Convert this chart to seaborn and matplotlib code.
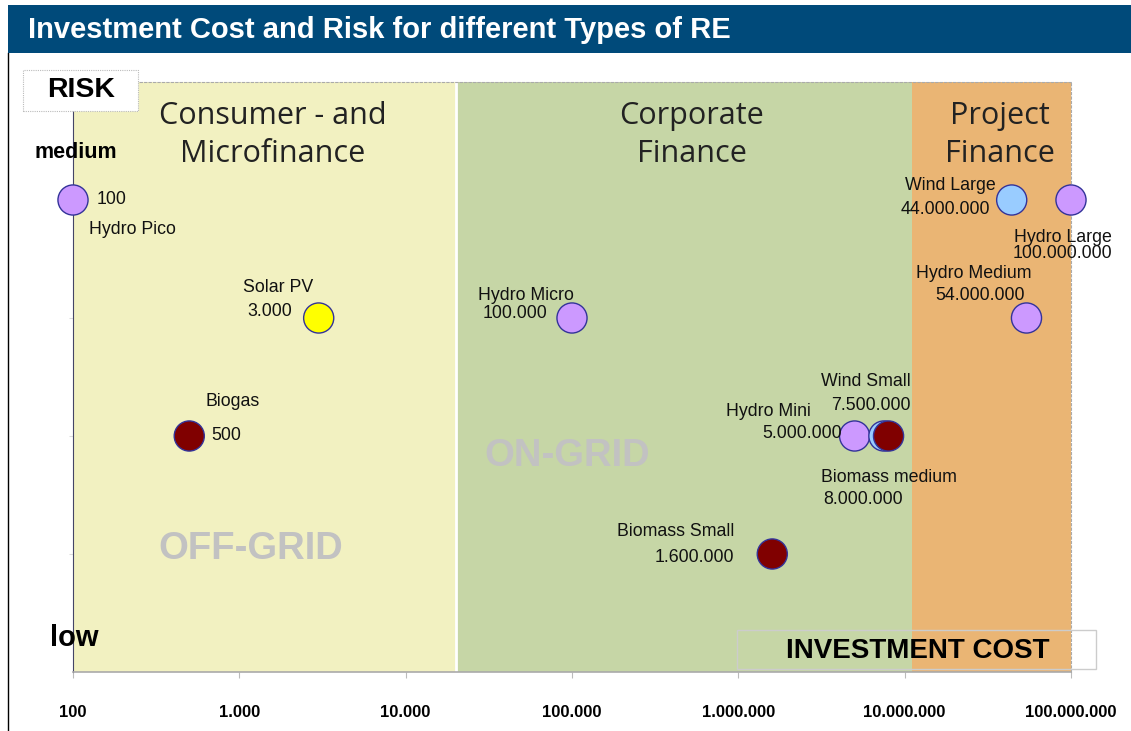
import matplotlib
matplotlib.use('Agg')
import matplotlib.pyplot as plt
import numpy as np
import pandas as pd
import seaborn as sns
from matplotlib.patches import Rectangle
from matplotlib.lines import Line2D

# data
names = ['Hydro Pico', 'Solar PV', 'Biogas', 'Hydro Micro', 'Biomass Small', 'Hydro Mini',
         'Wind Small', 'Biomass medium', 'Wind Large', 'Hydro Large', 'Hydro Medium']
costs = [100, 3000, 500, 100000, 1600000, 5000000, 7500000, 8000000, 44000000, 100000000, 54000000]
risk = [4, 3, 2, 3, 1, 2, 2, 2, 4, 4, 3]
kinds = ['Hydro', 'Solar', 'Biomass', 'Hydro', 'Biomass', 'Hydro', 'Wind', 'Biomass', 'Wind', 'Hydro', 'Hydro']
kind_colors = {'Hydro': '#cc99ff', 'Solar': '#ffff00', 'Biomass': '#800000', 'Wind': '#99ccff'}

band_names = ['Consumer - and\nMicrofinance', 'Corporate\nFinance', 'Project\nFinance']
band_edges = [100, 20000, 11000000, 100000000]
band_colors = ['#f2f1c1', '#c6d6a6', '#eab574']

tick_values = [100, 1000, 10000, 100000, 1000000, 10000000, 100000000]

# label offsets in pixels: (dx, dy, ha) for name and for value
name_pos = [(16, -30, 'left'), (-41, 30, 'center'), (16, 34, 'left'), (2, 22, 'right'),
            (-38, 23, 'right'), (-44, 24, 'right'), (27, 54, 'right'), (0, -42, 'center'),
            (-16, 14, 'right'), (41, -37, 'right'), (5, 45, 'right')]
value_pos = [(24, 0, 'left'), (-27, 7, 'right'), (22, 0, 'left'), (-25, 4, 'right'),
             (-38, -3, 'right'), (-13, 3, 'right'), (27, 31, 'right'), (-25, -64, 'center'),
             (-22, -9, 'right'), (41, -54, 'right'), (-2, 22, 'right')]


def fmt(v):
    return f'{v:,}'.replace(',', '.')


df = pd.DataFrame({'name': names, 'cost': costs, 'risk': risk, 'kind': kinds})

W, H = 1131, 731
fig = plt.figure(figsize=(W / 100, H / 100), dpi=100)
fig.patch.set_facecolor('white')


def fx(x):
    return x / W


def fy(y):
    return 1 - y / H


ax = fig.add_axes([fx(73), fy(672), fx(1071) - fx(73), fy(82) - fy(672)])
ax.set_xscale('log')
ax.set_xlim(100, 1e8)
ax.set_ylim(0, 5)

# bands
for i in range(3):
    ax.axvspan(band_edges[i], band_edges[i + 1], color=band_colors[i], lw=0, zorder=0)
    mid = 10 ** ((np.log10(band_edges[i]) + np.log10(band_edges[i + 1])) / 2 + 0.05)
    ax.text(mid, 4.55, band_names[i], ha='center', va='center', fontsize=22,
            family='Open Sans', color='#222222', linespacing=1.32, zorder=1)
ax.axvline(band_edges[1], color='white', lw=2, zorder=1)

ax.text(10 ** 3.07, 1.04, 'OFF-GRID', ha='center', va='center', fontsize=27.5,
        fontweight='bold', family='Liberation Sans', color='#c2c2c2', zorder=1)
ax.text(10 ** 4.97, 1.83, 'ON-GRID', ha='center', va='center', fontsize=27.5,
        fontweight='bold', family='Liberation Sans', color='#c2c2c2', zorder=1)

sns.scatterplot(data=df, x='cost', y='risk', hue='kind', palette=kind_colors, s=470,
                edgecolor='#333399', linewidth=1, legend=False, ax=ax, zorder=3)
for c in ax.collections:
    c.set_clip_on(False)

for i in range(len(names)):
    dx, dy, ha = name_pos[i]
    ax.annotate(names[i], (costs[i], risk[i]), xytext=(dx, dy), textcoords='offset pixels',
                ha=ha, va='center', fontsize=12.8, family='Liberation Sans', color='#111111', zorder=4)
    dx, dy, ha = value_pos[i]
    ax.annotate(fmt(costs[i]), (costs[i], risk[i]), xytext=(dx, dy), textcoords='offset pixels',
                ha=ha, va='center', fontsize=12.8, family='Liberation Sans', color='#111111', zorder=4)

# axes styling
ax.set_xticks(tick_values)
ax.set_xticklabels([fmt(v) for v in tick_values], fontsize=12, fontweight='bold',
                   family='Liberation Sans')
ax.xaxis.set_minor_locator(matplotlib.ticker.NullLocator())
ax.tick_params(axis='x', length=4, color='#bbbbbb', pad=20)
ax.set_yticks([1, 2, 3, 4])
ax.set_yticklabels([])
ax.tick_params(axis='y', length=3, color='#dddddd', direction='out')
ax.set_xlabel('')
ax.set_ylabel('')
ax.spines['left'].set_color('#444466')
ax.spines['left'].set_linewidth(0.8)
ax.spines['bottom'].set_color('#aaaaaa')
ax.spines['bottom'].set_linewidth(1.2)
for side in ['top', 'right']:
    ax.spines[side].set_color('#aaaaaa')
    ax.spines[side].set_linestyle((0, (2, 2)))
    ax.spines[side].set_linewidth(0.8)
ax.set_zorder(1)

# title bar
fig.add_artist(Rectangle((fx(8), fy(53)), 1 - fx(8), fy(5) - fy(53), transform=fig.transFigure,
                         facecolor='#004a7a', edgecolor='none', zorder=5))
fig.text(fx(28), fy(30), 'Investment Cost and Risk for different Types of RE', color='white',
         fontsize=21, fontweight='bold', family='Liberation Sans', va='center', ha='left', zorder=6)
fig.add_artist(Line2D([fx(8), fx(8)], [0, fy(53)], transform=fig.transFigure, color='black', lw=1))

# RISK box
fig.add_artist(Rectangle((fx(23), fy(111)), fx(138) - fx(23), fy(70) - fy(111),
                         transform=fig.transFigure, facecolor='white', edgecolor='#bbbbbb',
                         lw=0.8, ls=(0, (1, 1)), zorder=5))
fig.text(fx(81), fy(90), 'RISK', fontsize=20.5, fontweight='bold', family='Liberation Sans',
         ha='center', va='center', zorder=6)
fig.text(fx(76), fy(152), 'medium', fontsize=15.5, fontweight='bold', family='Liberation Sans',
         ha='center', va='center', zorder=6)
fig.text(fx(74), fy(638), 'low', fontsize=21, fontweight='bold', family='Liberation Sans',
         ha='center', va='center', zorder=6)

# INVESTMENT COST box
fig.add_artist(Rectangle((fx(737), fy(669)), fx(1096) - fx(737), fy(630) - fy(669),
                         transform=fig.transFigure, facecolor='none', edgecolor='#cccccc',
                         lw=1, zorder=5))
fig.text(fx(1050), fy(651), 'INVESTMENT COST', fontsize=20, fontweight='bold',
         family='Liberation Sans', ha='right', va='center', zorder=6)

fig.savefig('out.png', dpi=100)
